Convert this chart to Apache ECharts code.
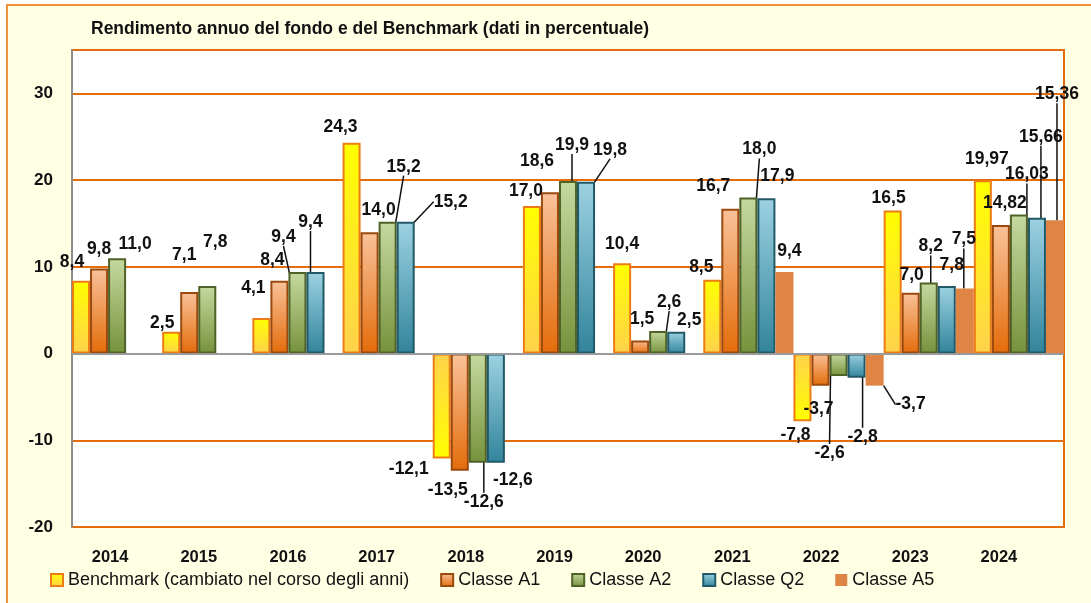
<!DOCTYPE html>
<html>
<head>
<meta charset="utf-8">
<script src="https://cdn.jsdelivr.net/npm/echarts@6/dist/echarts.min.js"></script>
<style>
  html, body { margin: 0; padding: 0; background: #fff; }
  #chart { width: 1091px; height: 603px; }
</style>
</head>
<body>
<div id="chart"></div>
<script>
// dati
const years = ['2014', '2015', '2016', '2017', '2018', '2019', '2020', '2021', '2022', '2023', '2024'];
const benchmark = [8.4, 2.5, 4.1, 24.3, -12.1, 17.0, 10.4, 8.5, -7.8, 16.5, 19.97];
const classeA1 = [9.8, 7.1, 8.4, 14.0, -13.5, 18.6, 1.5, 16.7, -3.7, 7.0, 14.82];
const classeA2 = [11.0, 7.8, 9.4, 15.2, -12.6, 19.9, 2.6, 18.0, -2.6, 8.2, 16.03];
const classeQ2 = [null, null, 9.4, 15.2, -12.6, 19.8, 2.5, 17.9, -2.8, 7.8, 15.66];
const classeA5 = [null, null, null, null, null, null, null, 9.4, -3.7, 7.5, 15.36];
const yTicks = [-20, -10, 0, 10, 20, 30];

// spostamento etichette [dx, dy, linea guida]
const labelShift = [
  [[-9, -19], [-9, -9], [-8, -30], [-11, -16], [-33, 11], [-6, -15], [0, -19], [-11, -13], [-7, 14], [-4, -12], [4, -21]],
  [[0, -19], [-5, -37], [-7, -21], [9, -22], [-12, 20], [-13, -31], [2, -21], [-17, -23], [-2, 24], [1, -18], [4, -22]],
  [[18, -14], [8, -44], [-14, -35, 1], [16, -55, 1], [6, 39, 1], [4, -36, 1], [11, -29, 1], [11, -48, 1], [-9, 77, 1], [2, -36, 1], [8, -40, 1]],
  [null, null, [-5, -50, 1], [45, -20, 1], [17, 17], [24, -32, 1], [13, -12], [11, -22], [6, 59, 1], [5, -21], [4, -81, 1]],
  [null, null, null, null, null, null, null, [5, -21], [36, 19, 1], [-1, -49, 1], [2, -126, 1]]
];

const FONT = '"Liberation Sans", Arial, sans-serif';
const grad = (a, b) => new echarts.graphic.LinearGradient(0, 0, 0, 1, [
  { offset: 0, color: a }, { offset: 1, color: b }
]);

const seriesDefs = [
  { name: 'Benchmark (cambiato nel corso degli anni)', values: benchmark,
    color: grad('#FFFF00', '#FFD24C'), colorNeg: grad('#FFD24C', '#FFFF00'), border: '#EE7C14', bw: 2 },
  { name: 'Classe A1', values: classeA1, color: grad('#F9C29A', '#E46C0A'), border: '#9A4A0E', bw: 2 },
  { name: 'Classe A2', values: classeA2, color: grad('#C6D9A0', '#76923C'), border: '#4F6228', bw: 2 },
  { name: 'Classe Q2', values: classeQ2, color: grad('#9DD2E2', '#31849B'), border: '#215968', bw: 2 },
  { name: 'Classe A5', values: classeA5, color: '#DE8444', border: '#DE8444', bw: 0 }
];

const fmt = (v) => {
  const dec = Math.abs(v * 10 - Math.round(v * 10)) < 1e-6 ? 1 : 2;
  return v.toFixed(dec).replace('.', ',');
};

// le etichette degli anni nel grafico originale sono un po' spostate a sinistra
const yearRich = {};
years.forEach((y, i) => {
  yearRich['y' + i] = {
    fontFamily: FONT, fontSize: 16.5, fontWeight: 'bold', color: '#111',
    padding: [0, Math.round(14 + 2.6 * i), 0, 0]
  };
});

const myChart = echarts.init(document.getElementById('chart'));

const series = seriesDefs.map((s, si) => ({
  name: s.name,
  type: 'bar',
  barGap: '0%',
  barCategoryGap: '0%',
  itemStyle: { color: s.color, borderColor: s.border, borderWidth: s.bw },
  data: s.values.map((v, i) => {
    if (v === null) return null;
    const shift = labelShift[si][i];
    const item = { value: v, labelLine: { show: !!(shift && shift[2]) } };
    if (v < 0 && s.colorNeg) item.itemStyle = { color: s.colorNeg };
    return item;
  }),
  label: {
    show: true,
    position: 'top',
    formatter: (p) => fmt(p.value),
    fontFamily: FONT,
    fontSize: 17.5,
    fontWeight: 'bold',
    color: '#111'
  },
  labelLine: {
    lineStyle: { color: '#111', width: 1.5 }
  },
  labelLayout: (params) => {
    const v = s.values[params.dataIndex];
    const shift = labelShift[si][params.dataIndex] || [0, -18];
    const r = params.rect;
    const endY = v >= 0 ? r.y : r.y + r.height;
    return {
      x: r.x + r.width / 2 + shift[0],
      y: endY + shift[1],
      align: 'center',
      verticalAlign: 'middle'
    };
  },
  markLine: si === 0 ? {
    silent: true,
    symbol: 'none',
    label: { show: false },
    lineStyle: { color: '#9a9a9a', width: 2, type: 'solid' },
    data: [{ yAxis: 0 }]
  } : undefined
}));

const options = {
  backgroundColor: '#fff',
  animation: false,
  graphic: [{
    type: 'rect',
    z: -10,
    shape: { x: 7, y: 5, width: 1100, height: 620 },
    style: { fill: '#FFFFE4', stroke: '#F0913A', lineWidth: 2 }
  }],
  title: {
    text: 'Rendimento annuo del fondo e del Benchmark (dati in percentuale)',
    left: 91,
    top: 20,
    padding: 0,
    textStyle: { fontFamily: FONT, fontSize: 17.5, fontWeight: 'bold', color: '#111' }
  },
  legend: {
    left: 50,
    top: 571,
    padding: 0,
    itemWidth: 12,
    itemHeight: 12,
    itemGap: 31,
    icon: 'rect',
    textStyle: { fontFamily: FONT, fontSize: 18, color: '#111' }
  },
  grid: {
    left: 72,
    right: 27,
    top: 50,
    bottom: 76,
    show: true,
    backgroundColor: '#fff',
    borderColor: '#E46C0A',
    borderWidth: 2
  },
  xAxis: {
    type: 'category',
    data: years,
    axisLine: { show: false },
    axisTick: { show: false },
    axisLabel: {
      interval: 0,
      margin: 22,
      formatter: (val, i) => '{y' + i + '|' + val + '}',
      rich: yearRich,
      fontFamily: FONT, fontSize: 16.5, fontWeight: 'bold', color: '#111'
    }
  },
  yAxis: {
    type: 'value',
    min: yTicks[0],
    max: 35,
    interval: 10,
    axisLine: { show: true, lineStyle: { color: '#8c8c8c', width: 2 } },
    axisTick: { show: false },
    splitLine: { lineStyle: { color: '#E46C0A', width: 2 } },
    axisLabel: {
      margin: 19,
      showMaxLabel: false,
      fontFamily: FONT, fontSize: 17, fontWeight: 'bold', color: '#111'
    }
  },
  series: series
};
myChart.setOption(options);
</script>
</body>
</html>
